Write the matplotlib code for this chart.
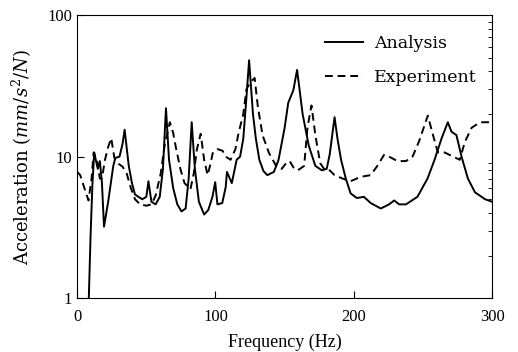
import matplotlib
matplotlib.use('Agg')
import matplotlib.pyplot as plt

plt.rcParams['font.family'] = ['Liberation Serif', 'DejaVu Serif']
plt.rcParams['mathtext.fontset'] = 'dejavuserif'

# Analysis (solid) - frequency in Hz, acceleration in mm/s^2/N
freq_analysis = [8.4, 9.7, 11.0, 12.3, 14.9, 16.4, 17.9, 19.4, 22.4, 26.1, 27.6, 30.6,
                 32.8, 34.3, 37.3, 39.6, 41.8, 47.0, 50.0, 51.5, 53.7, 56.7, 59.7, 62.0,
                 64.2, 66.4, 69.4, 72.4, 75.4, 78.4, 80.6, 82.8, 85.1, 88.0, 91.8, 94.8,
                 97.8, 99.8, 101.4, 104.9, 107.4, 108.3, 111.8, 115.3, 117.8, 120.1, 122.2,
                 124.3, 127.1, 129.2, 131.7, 134.7, 137.5, 142.2, 145.6, 150.0, 152.6,
                 156.3, 159.0, 163.0, 167.4, 172.2, 176.9, 180.4, 182.6, 186.1, 188.2,
                 190.8, 194.2, 197.7, 202.2, 207.3, 212.2, 219.5, 225.5, 229.2, 232.8,
                 237.7, 246.0, 253.3, 258.4, 263.4, 268.0, 270.6, 274.2, 277.9, 282.5,
                 287.6, 294.9, 300.0]
acc_analysis = [1.0, 2.8, 6.3, 10.7, 8.2, 9.3, 6.5, 3.2, 4.8, 8.6, 9.8, 10.0,
                12.3, 15.5, 8.6, 6.5, 5.4, 5.0, 5.2, 6.7, 4.8, 4.6, 5.2, 8.2,
                22.0, 9.5, 6.0, 4.6, 4.1, 4.3, 7.0, 17.5, 8.2, 4.8, 3.9, 4.2,
                5.2, 6.6, 4.6, 4.7, 6.1, 7.8, 6.5, 9.5, 10.0, 13.4, 24.8,
                48.0, 20.0, 13.4, 9.5, 7.9, 7.4, 7.8, 9.5, 16.0, 24.0,
                29.5, 41.0, 20.0, 12.0, 8.6, 8.0, 8.2, 10.4, 19.0, 13.4,
                9.5, 7.0, 5.5, 5.1, 5.2, 4.7, 4.3, 4.6, 4.9, 4.6,
                4.6, 5.2, 7.0, 9.5, 13.4, 17.5, 15.0, 14.2, 10.0, 7.0,
                5.6, 5.0, 4.8]

# Experiment (dashed)
freq_exp = [0.0, 2.2, 5.2, 8.2, 10.4, 11.9, 14.2, 16.4, 17.9, 20.1, 22.4, 24.6,
            26.9, 29.9, 32.8, 35.8, 38.8, 41.8, 45.5, 50.0, 53.7, 56.7, 60.4, 63.4,
            67.0, 69.4, 71.6, 74.6, 77.6, 81.9, 84.3, 86.6, 89.3, 91.8, 94.3, 96.3,
            98.0, 101.6, 105.1, 107.4, 110.9, 114.4, 116.7, 120.1, 122.4, 124.8,
            128.3, 130.6, 134.0, 138.7, 144.4, 147.9, 150.7, 153.7, 156.3, 159.5,
            164.1, 166.5, 169.4, 172.2, 175.7, 179.2, 182.6, 186.1, 191.9, 197.7,
            204.9, 212.2, 217.0, 221.9, 225.5, 231.6, 237.7, 242.5, 247.4, 253.5,
            257.2, 260.8, 265.7, 271.8, 276.6, 280.3, 285.2, 291.2, 298.5, 300.0]
acc_exp = [7.8, 7.4, 6.0, 4.9, 7.0, 10.7, 9.5, 7.0, 7.0, 9.5, 11.7, 13.5,
           9.8, 8.9, 8.5, 7.6, 6.0, 5.0, 4.6, 4.5, 4.6, 5.3, 7.6, 12.3,
           17.5, 14.7, 11.3, 8.2, 6.5, 5.9, 7.6, 11.3, 14.5, 9.5, 7.4, 8.8,
           10.6, 11.3, 11.0, 10.0, 9.5, 11.3, 14.7, 20.0, 30.0, 33.0,
           36.0, 22.7, 14.2, 10.6, 8.4, 8.2, 8.9, 9.3, 8.4, 8.0,
           8.6, 16.0, 23.0, 14.2, 9.0, 8.0, 8.0, 7.4, 7.0, 6.7,
           7.2, 7.4, 8.6, 10.3, 10.0, 9.3, 9.3, 10.0, 13.0, 19.5,
           14.3, 10.7, 10.7, 10.0, 9.5, 12.7, 16.0, 17.5, 17.5, 17.5]

fig = plt.figure(figsize=(5.18, 3.52), dpi=100)
ax = fig.add_axes([0.149, 0.153, 0.801, 0.804])

ax.plot(freq_analysis, acc_analysis, color='black', lw=1.4, label='Analysis')
ax.plot(freq_exp, acc_exp, color='black', lw=1.4, linestyle=(0, (4, 2.5)), label='Experiment')

ax.set_yscale('log')
ax.set_xlim(0, 300)
ax.set_ylim(1, 100)
ax.set_xticks([0, 100, 200, 300])
ax.set_yticks([1, 10, 100])
ax.set_yticklabels(['1', '10', '100'])
ax.tick_params(axis='both', which='major', direction='in', length=5, labelsize=12)
ax.tick_params(axis='x', which='major', pad=8)
ax.tick_params(axis='y', which='minor', left=False, right=True, direction='in', length=3)
ax.tick_params(axis='y', which='minor', labelleft=False)

ax.set_xlabel('Frequency (Hz)', fontsize=13, labelpad=6)
ax.set_ylabel('Acceleration ($mm/s^2/N$)', fontsize=13, family='DejaVu Serif', labelpad=10)

ax.legend(loc='upper left', bbox_to_anchor=(0.598, 0.93), frameon=False,
          prop={'family': 'DejaVu Serif', 'size': 12.5}, handlelength=2.2,
          handletextpad=0.6, labelspacing=1.0, borderaxespad=0, borderpad=0)

fig.savefig('out.png', dpi=100)
